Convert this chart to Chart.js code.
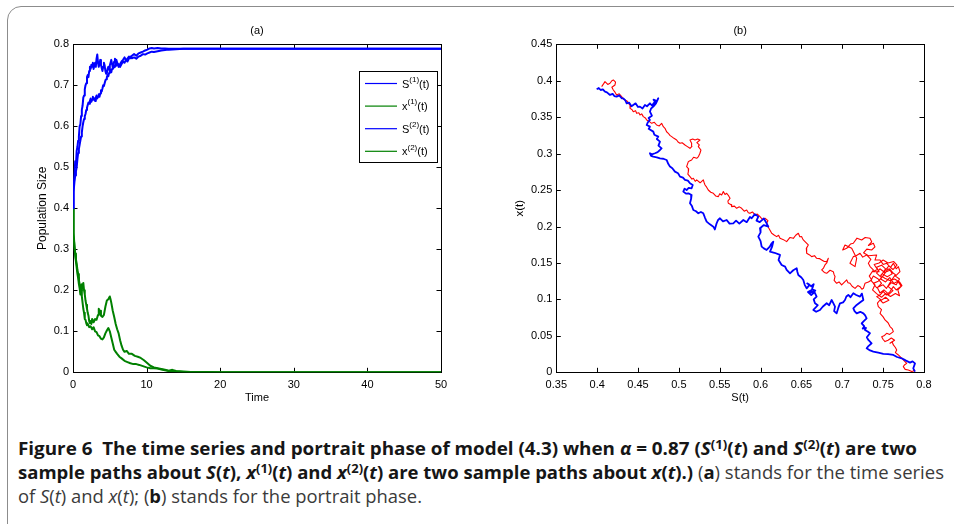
<!DOCTYPE html>
<html>
<head>
<meta charset="utf-8">
<script src="https://cdn.jsdelivr.net/npm/chart.js@4.4.1/dist/chart.umd.min.js"></script>
<style>
  html, body { margin:0; padding:0; background:#fff; width:954px; height:524px; overflow:hidden; }
  #frame { position:absolute; left:7px; top:6px; width:980px; height:540px; border:1.5px solid #8c8c8c; border-radius:14px; box-sizing:border-box; }
  canvas { position:absolute; top:0; }
  #ca { left:0; }
  #cb { left:480px; }
  .cap { position:absolute; left:18px; font-family:"Open Sans", "Noto Sans", sans-serif; font-size:17.5px; line-height:24px; white-space:nowrap; transform-origin:0 50%; color:#3a3a3a; }
  .cap b { color:#161616; font-weight:700; }
  .cap sup { font-size:0.7em; vertical-align:0.5em; line-height:0; }
</style>
</head>
<body>
<div id="frame"></div>
<canvas id="ca" width="480" height="420"></canvas>
<canvas id="cb" width="474" height="420"></canvas>
<div class="cap" id="l1" style="top:436px"><b>Figure 6&nbsp;&nbsp;The time series and portrait phase of model (4.3) when <i>α</i> = 0.87 (<i>S</i><sup>(1)</sup>(<i>t</i>) and <i>S</i><sup>(2)</sup>(<i>t</i>) are two</b></div>
<div class="cap" id="l2" style="top:460px"><b>sample paths about <i>S</i>(<i>t</i>), <i>x</i><sup>(1)</sup>(<i>t</i>) and <i>x</i><sup>(2)</sup>(<i>t</i>) are two sample paths about <i>x</i>(<i>t</i>).)</b> (<b>a</b>) stands for the time series</div>
<div class="cap" id="l3" style="top:484px">of <i>S</i>(<i>t</i>) and <i>x</i>(<i>t</i>); (<b>b</b>) stands for the portrait phase.</div>
<script>
// ---------- DATA ----------
const xTicksA = [0, 10, 20, 30, 40, 50];
const yTicksA = [0, 0.1, 0.2, 0.3, 0.4, 0.5, 0.6, 0.7, 0.8];
const xTicksB = [0.35, 0.4, 0.45, 0.5, 0.55, 0.6, 0.65, 0.7, 0.75, 0.8];
const yTicksB = [0, 0.05, 0.1, 0.15, 0.2, 0.25, 0.3, 0.35, 0.4, 0.45];
const legendLabels = [["S","(1)"],["x","(1)"],["S","(2)"],["x","(2)"]];

// time series [t, value]
const S1 = [[0,0.40],[0.05,0.43],[0.1,0.45],[0.2,0.48],[0.3,0.515],[0.4,0.505],[0.5,0.54],[0.6,0.55],[0.7,0.565],[0.8,0.575],[0.9,0.6],[1.0,0.605],[1.1,0.625],[1.2,0.64],[1.3,0.65],[1.4,0.67],[1.5,0.675],[1.6,0.69],[1.7,0.70],[1.8,0.705],[1.9,0.72],[2.0,0.725],[2.1,0.72],[2.2,0.735],[2.3,0.745],[2.4,0.74],[2.5,0.75],[2.6,0.745],[2.7,0.755],[2.8,0.74],[2.9,0.75],[3.0,0.755],[3.1,0.745],[3.2,0.765],[3.3,0.775],[3.4,0.755],[3.5,0.745],[3.6,0.752],[3.7,0.762],[3.8,0.75],[3.9,0.742],[4.0,0.735],[4.1,0.745],[4.2,0.755],[4.3,0.748],[4.4,0.735],[4.5,0.728],[4.6,0.73],[4.7,0.74],[4.8,0.745],[4.9,0.738],[5.0,0.748],[5.1,0.755],[5.2,0.762],[5.3,0.752],[5.4,0.745],[5.5,0.75],[5.6,0.758],[5.7,0.765],[5.8,0.755],[5.9,0.762],[6.0,0.755],[6.2,0.745],[6.4,0.752],[6.6,0.758],[6.8,0.762],[7.0,0.768],[7.2,0.762],[7.4,0.765],[7.6,0.77],[7.8,0.766],[8.0,0.772],[8.3,0.776],[8.6,0.772],[8.9,0.778],[9.2,0.78],[9.5,0.782],[9.8,0.785],[10.1,0.787],[10.4,0.79],[10.7,0.791],[11.0,0.79],[11.5,0.791],[12,0.79],[12.5,0.79],[13,0.789],[14,0.789],[15,0.789],[17,0.789],[20,0.789],[30,0.789],[40,0.789],[50,0.789]];
const S2 = [[0,0.40],[0.05,0.42],[0.1,0.44],[0.2,0.465],[0.3,0.48],[0.4,0.49],[0.5,0.50],[0.6,0.52],[0.7,0.535],[0.8,0.545],[0.9,0.555],[1.0,0.565],[1.1,0.575],[1.2,0.585],[1.3,0.6],[1.4,0.61],[1.5,0.618],[1.6,0.625],[1.7,0.63],[1.8,0.64],[1.9,0.645],[2.0,0.652],[2.1,0.658],[2.2,0.655],[2.3,0.662],[2.4,0.668],[2.5,0.66],[2.6,0.665],[2.7,0.672],[2.8,0.665],[2.9,0.668],[3.0,0.662],[3.1,0.67],[3.2,0.675],[3.3,0.668],[3.4,0.672],[3.5,0.678],[3.6,0.672],[3.7,0.68],[3.8,0.688],[3.9,0.685],[4.0,0.692],[4.1,0.70],[4.2,0.698],[4.3,0.705],[4.4,0.712],[4.5,0.715],[4.6,0.72],[4.7,0.725],[4.8,0.722],[4.9,0.73],[5.0,0.735],[5.1,0.738],[5.2,0.732],[5.3,0.74],[5.4,0.745],[5.5,0.742],[5.6,0.748],[5.7,0.745],[5.8,0.752],[5.9,0.748],[6.0,0.755],[6.2,0.75],[6.4,0.745],[6.6,0.752],[6.8,0.758],[7.0,0.755],[7.2,0.762],[7.4,0.758],[7.6,0.765],[7.8,0.77],[8.0,0.766],[8.3,0.768],[8.6,0.765],[8.9,0.77],[9.2,0.772],[9.5,0.776],[9.8,0.775],[10.1,0.778],[10.4,0.78],[10.7,0.782],[11.0,0.781],[11.5,0.783],[12,0.785],[12.5,0.786],[13,0.787],[14,0.788],[15,0.789],[17,0.789],[20,0.789],[30,0.789],[40,0.789],[50,0.789]];
const X1 = [[0,0.4],[0.05,0.37],[0.1,0.34],[0.2,0.31],[0.3,0.29],[0.4,0.275],[0.5,0.265],[0.6,0.25],[0.7,0.24],[0.8,0.225],[0.9,0.215],[1.0,0.21],[1.1,0.2],[1.2,0.215],[1.3,0.205],[1.4,0.218],[1.5,0.2],[1.6,0.19],[1.7,0.175],[1.8,0.165],[1.9,0.155],[2.0,0.145],[2.1,0.138],[2.2,0.125],[2.3,0.12],[2.4,0.125],[2.5,0.118],[2.6,0.13],[2.8,0.122],[3.0,0.13],[3.2,0.128],[3.4,0.14],[3.5,0.155],[3.6,0.145],[3.7,0.15],[3.8,0.138],[4.0,0.135],[4.2,0.14],[4.4,0.16],[4.6,0.175],[4.8,0.178],[5.0,0.185],[5.1,0.178],[5.2,0.17],[5.4,0.15],[5.6,0.135],[5.8,0.118],[6.0,0.105],[6.2,0.095],[6.4,0.078],[6.6,0.065],[6.8,0.055],[7.0,0.05],[7.3,0.052],[7.6,0.045],[8.0,0.045],[8.4,0.04],[8.8,0.038],[9.2,0.035],[9.6,0.03],[10,0.024],[10.5,0.016],[11,0.012],[11.5,0.01],[12,0.008],[12.5,0.006],[13,0.004],[13.5,0.006],[14,0.003],[15,0.002],[16,0.001],[18,0.0005],[20,0],[50,0]];
const X2 = [[0,0.4],[0.05,0.36],[0.1,0.335],[0.2,0.305],[0.3,0.285],[0.4,0.27],[0.5,0.255],[0.6,0.24],[0.7,0.23],[0.8,0.215],[0.9,0.205],[1.0,0.19],[1.1,0.2],[1.2,0.185],[1.3,0.17],[1.4,0.155],[1.5,0.145],[1.6,0.13],[1.7,0.128],[1.8,0.12],[1.9,0.115],[2.0,0.118],[2.2,0.11],[2.4,0.112],[2.6,0.105],[2.8,0.11],[3.0,0.1],[3.2,0.098],[3.4,0.09],[3.6,0.088],[3.8,0.082],[4.0,0.08],[4.2,0.085],[4.4,0.095],[4.6,0.102],[4.8,0.108],[5.0,0.1],[5.2,0.085],[5.4,0.07],[5.6,0.055],[5.8,0.05],[6.0,0.045],[6.3,0.038],[6.6,0.034],[7.0,0.028],[7.4,0.025],[7.8,0.022],[8.2,0.02],[8.6,0.02],[9.0,0.018],[9.5,0.015],[10,0.012],[10.5,0.01],[11,0.01],[11.5,0.009],[12,0.007],[12.5,0.005],[13,0.003],[14,0.002],[15,0.001],[17,0.0005],[20,0],[50,0]];

// phase portrait [S, x]
const bluePath = [[0.3994,0.3883],[0.4020,0.3900],[0.4043,0.3873],[0.4070,0.3880],[0.4096,0.3851],[0.4120,0.3840],[0.4157,0.3805],[0.4190,0.3820],[0.4210,0.3790],[0.4238,0.3782],[0.4270,0.3800],[0.4300,0.3760],[0.4320,0.3759],[0.4345,0.3730],[0.4361,0.3691],[0.4390,0.3700],[0.4420,0.3650],[0.4442,0.3668],[0.4470,0.3690],[0.4500,0.3640],[0.4524,0.3645],[0.4555,0.3620],[0.4585,0.3668],[0.4610,0.3650],[0.4646,0.3691],[0.4670,0.3660],[0.4708,0.3713],[0.4690,0.3740],[0.4730,0.3720],[0.4748,0.3759],[0.4720,0.3690],[0.4687,0.3645],[0.4660,0.3620],[0.4646,0.3576],[0.4670,0.3520],[0.4630,0.3490],[0.4646,0.3462],[0.4620,0.3430],[0.4606,0.3393],[0.4646,0.3370],[0.4630,0.3340],[0.4687,0.3302],[0.4700,0.3260],[0.4748,0.3233],[0.4730,0.3200],[0.4769,0.3165],[0.4750,0.3110],[0.4789,0.3073],[0.4769,0.3050],[0.4740,0.3020],[0.4708,0.3005],[0.4670,0.2990],[0.4646,0.3005],[0.4660,0.2970],[0.4687,0.2959],[0.4730,0.2950],[0.4769,0.2936],[0.4810,0.2930],[0.4850,0.2913],[0.4870,0.2860],[0.4891,0.2822],[0.4920,0.2800],[0.4952,0.2753],[0.4990,0.2730],[0.5014,0.2684],[0.5050,0.2670],[0.5075,0.2639],[0.5110,0.2630],[0.5136,0.2593],[0.5170,0.2570],[0.5156,0.2524],[0.5120,0.2530],[0.5095,0.2501],[0.5070,0.2520],[0.5054,0.2479],[0.5090,0.2450],[0.5116,0.2456],[0.5156,0.2433],[0.5150,0.2380],[0.5136,0.2319],[0.5160,0.2280],[0.5177,0.2227],[0.5210,0.2210],[0.5238,0.2181],[0.5270,0.2200],[0.5299,0.2181],[0.5320,0.2120],[0.5340,0.2067],[0.5380,0.2030],[0.5422,0.1998],[0.5440,0.1960],[0.5462,0.2044],[0.5480,0.2090],[0.5503,0.2113],[0.5540,0.2070],[0.5585,0.2090],[0.5620,0.2040],[0.5666,0.2044],[0.5700,0.2080],[0.5740,0.2040],[0.5789,0.2090],[0.5830,0.2060],[0.5870,0.2130],[0.5891,0.2113],[0.5930,0.2170],[0.5972,0.2136],[0.5950,0.2080],[0.5990,0.2060],[0.6010,0.2080],[0.6040,0.2110],[0.6074,0.2044],[0.6095,0.1998],[0.6040,0.2020],[0.5993,0.1976],[0.6000,0.1920],[0.5972,0.1861],[0.6000,0.1800],[0.6013,0.1724],[0.6040,0.1700],[0.6074,0.1678],[0.6110,0.1720],[0.6136,0.1770],[0.6156,0.1793],[0.6140,0.1720],[0.6115,0.1655],[0.6170,0.1640],[0.6238,0.1610],[0.6220,0.1540],[0.6258,0.1473],[0.6300,0.1450],[0.6319,0.1404],[0.6340,0.1380],[0.6360,0.1358],[0.6400,0.1400],[0.6442,0.1427],[0.6450,0.1380],[0.6462,0.1335],[0.6500,0.1300],[0.6523,0.1267],[0.6540,0.1200],[0.6564,0.1152],[0.6600,0.1200],[0.6570,0.1220],[0.6620,0.1180],[0.6650,0.1210],[0.6630,0.1140],[0.6670,0.1120],[0.6600,0.1090],[0.6625,0.1130],[0.6580,0.1100],[0.6620,0.1060],[0.6660,0.1100],[0.6686,0.1038],[0.6650,0.1000],[0.6666,0.0947],[0.6700,0.0920],[0.6646,0.0855],[0.6680,0.0830],[0.6727,0.0855],[0.6760,0.0900],[0.6809,0.0947],[0.6840,0.0920],[0.6870,0.0992],[0.6890,0.0950],[0.6911,0.0901],[0.6900,0.0840],[0.6931,0.0809],[0.6950,0.0880],[0.6972,0.0947],[0.7010,0.0960],[0.7033,0.0992],[0.7050,0.1040],[0.7074,0.1061],[0.7100,0.1030],[0.7135,0.1084],[0.7170,0.1060],[0.7217,0.1038],[0.7240,0.1080],[0.7258,0.0992],[0.7220,0.0960],[0.7176,0.0924],[0.7135,0.0878],[0.7150,0.0840],[0.7176,0.0809],[0.7220,0.0830],[0.7258,0.0809],[0.7280,0.0780],[0.7298,0.0741],[0.7260,0.0700],[0.7237,0.0672],[0.7270,0.0630],[0.7250,0.0600],[0.7290,0.0610],[0.7278,0.0581],[0.7310,0.0560],[0.7339,0.0535],[0.7300,0.0480],[0.7319,0.0444],[0.7359,0.0398],[0.7320,0.0360],[0.7298,0.0329],[0.7340,0.0300],[0.7380,0.0284],[0.7440,0.0270],[0.7502,0.0252],[0.7560,0.0250],[0.7625,0.0238],[0.7670,0.0210],[0.7727,0.0192],[0.7780,0.0160],[0.7829,0.0133],[0.7860,0.0150],[0.7890,0.0123],[0.7869,0.0055],[0.7890,0.0009]];
const redPath = [[0.4055,0.3919],[0.4080,0.3960],[0.4096,0.3988],[0.4130,0.3950],[0.4157,0.3965],[0.4180,0.4000],[0.4198,0.4011],[0.4225,0.3980],[0.4218,0.3942],[0.4180,0.3910],[0.4198,0.3873],[0.4220,0.3840],[0.4238,0.3805],[0.4270,0.3820],[0.4300,0.3782],[0.4320,0.3750],[0.4340,0.3736],[0.4370,0.3720],[0.4381,0.3691],[0.4410,0.3660],[0.4402,0.3622],[0.4430,0.3600],[0.4442,0.3576],[0.4470,0.3590],[0.4483,0.3553],[0.4510,0.3560],[0.4524,0.3530],[0.4545,0.3545],[0.4565,0.3508],[0.4590,0.3490],[0.4606,0.3462],[0.4640,0.3440],[0.4667,0.3416],[0.4700,0.3430],[0.4728,0.3393],[0.4760,0.3380],[0.4789,0.3416],[0.4810,0.3370],[0.4830,0.3348],[0.4850,0.3300],[0.4871,0.3279],[0.4890,0.3250],[0.4912,0.3233],[0.4940,0.3210],[0.4973,0.3187],[0.4990,0.3160],[0.5014,0.3142],[0.5040,0.3150],[0.5075,0.3119],[0.5100,0.3100],[0.5136,0.3073],[0.5160,0.3100],[0.5156,0.3142],[0.5136,0.3187],[0.5170,0.3200],[0.5197,0.3187],[0.5230,0.3200],[0.5258,0.3187],[0.5220,0.3150],[0.5250,0.3120],[0.5238,0.3096],[0.5270,0.3050],[0.5258,0.3005],[0.5240,0.2960],[0.5218,0.2936],[0.5180,0.2950],[0.5156,0.2913],[0.5130,0.2900],[0.5116,0.2890],[0.5095,0.2822],[0.5120,0.2790],[0.5116,0.2753],[0.5110,0.2720],[0.5136,0.2684],[0.5160,0.2650],[0.5177,0.2662],[0.5200,0.2620],[0.5218,0.2639],[0.5260,0.2600],[0.5299,0.2639],[0.5310,0.2600],[0.5320,0.2570],[0.5340,0.2540],[0.5360,0.2501],[0.5390,0.2470],[0.5422,0.2456],[0.5450,0.2420],[0.5483,0.2410],[0.5500,0.2450],[0.5524,0.2433],[0.5544,0.2479],[0.5565,0.2440],[0.5585,0.2456],[0.5610,0.2420],[0.5626,0.2387],[0.5600,0.2350],[0.5605,0.2319],[0.5640,0.2300],[0.5646,0.2273],[0.5680,0.2280],[0.5707,0.2250],[0.5740,0.2270],[0.5768,0.2250],[0.5800,0.2210],[0.5830,0.2227],[0.5850,0.2190],[0.5870,0.2181],[0.5900,0.2200],[0.5932,0.2159],[0.5960,0.2170],[0.5993,0.2136],[0.6020,0.2100],[0.6054,0.2113],[0.6090,0.2080],[0.6074,0.2044],[0.6100,0.1980],[0.6136,0.1907],[0.6170,0.1880],[0.6197,0.1861],[0.6220,0.1880],[0.6238,0.1838],[0.6280,0.1820],[0.6319,0.1793],[0.6360,0.1850],[0.6401,0.1838],[0.6430,0.1880],[0.6462,0.1907],[0.6480,0.1860],[0.6503,0.1861],[0.6520,0.1820],[0.6544,0.1793],[0.6584,0.1747],[0.6560,0.1700],[0.6564,0.1633],[0.6600,0.1610],[0.6625,0.1587],[0.6660,0.1600],[0.6686,0.1564],[0.6720,0.1560],[0.6748,0.1541],[0.6780,0.1520],[0.6809,0.1518],[0.6829,0.1564],[0.6810,0.1500],[0.6788,0.1473],[0.6770,0.1430],[0.6748,0.1404],[0.6780,0.1370],[0.6809,0.1358],[0.6850,0.1400],[0.6890,0.1381],[0.6900,0.1340],[0.6911,0.1313],[0.6900,0.1260],[0.6931,0.1221],[0.6960,0.1240],[0.6992,0.1198],[0.7020,0.1230],[0.7054,0.1267],[0.7070,0.1230],[0.7094,0.1221],[0.7120,0.1180],[0.7156,0.1152],[0.7190,0.1190],[0.7217,0.1175],[0.7240,0.1140],[0.7258,0.1152],[0.7278,0.1221],[0.7320,0.1240],[0.7359,0.1267],[0.7330,0.1320],[0.7380,0.1404],[0.7340,0.1450],[0.7319,0.1495],[0.7350,0.1550],[0.7298,0.1610],[0.7250,0.1580],[0.7217,0.1633],[0.7170,0.1600],[0.7135,0.1587],[0.7094,0.1495],[0.7156,0.1450],[0.7176,0.1564],[0.7115,0.1701],[0.7033,0.1747],[0.7005,0.1678],[0.7054,0.1701],[0.7100,0.1760],[0.7135,0.1770],[0.7180,0.1840],[0.7237,0.1816],[0.7280,0.1850],[0.7339,0.1838],[0.7360,0.1790],[0.7320,0.1740],[0.7380,0.1770],[0.7400,0.1720],[0.7359,0.1678],[0.7300,0.1690],[0.7260,0.1640],[0.7320,0.1600],[0.7421,0.1610],[0.7400,0.1540],[0.7462,0.1541],[0.7500,0.1480],[0.7543,0.1495],[0.7590,0.1440],[0.7625,0.1495],[0.7660,0.1420],[0.7686,0.1450],[0.7706,0.1381],[0.7650,0.1320],[0.7700,0.1280],[0.7660,0.1200],[0.7600,0.1230],[0.7560,0.1180],[0.7620,0.1120],[0.7570,0.1070],[0.7510,0.1130],[0.7460,0.1090],[0.7430,0.1160],[0.7480,0.1220],[0.7440,0.1280],[0.7380,0.1320],[0.7350,0.1260],[0.7400,0.1200],[0.7370,0.1130],[0.7420,0.1080],[0.7480,0.1030],[0.7530,0.1080],[0.7590,0.1040],[0.7650,0.1080],[0.7700,0.1050],[0.7680,0.1130],[0.7730,0.1190],[0.7700,0.1240],[0.7640,0.1280],[0.7580,0.1260],[0.7520,0.1290],[0.7470,0.1330],[0.7520,0.1390],[0.7570,0.1460],[0.7620,0.1410],[0.7670,0.1470],[0.7630,0.1520],[0.7560,0.1500],[0.7500,0.1540],[0.7450,0.1500],[0.7390,0.1480],[0.7430,0.1410],[0.7370,0.1380],[0.7450,0.1380],[0.7420,0.1440],[0.7480,0.1470],[0.7530,0.1420],[0.7490,0.1350],[0.7550,0.1310],[0.7610,0.1350],[0.7580,0.1420],[0.7625,0.1358],[0.7580,0.1400],[0.7520,0.1370],[0.7460,0.1420],[0.7420,0.1360],[0.7480,0.1300],[0.7440,0.1250],[0.7380,0.1220],[0.7420,0.1160],[0.7500,0.1200],[0.7540,0.1150],[0.7600,0.1260],[0.7650,0.1340],[0.7600,0.1380],[0.7560,0.1420],[0.7510,0.1340],[0.7470,0.1280],[0.7530,0.1240],[0.7580,0.1300],[0.7630,0.1220],[0.7680,0.1250],[0.7720,0.1180],[0.7660,0.1130],[0.7625,0.1175],[0.7584,0.1107],[0.7540,0.1060],[0.7502,0.1110],[0.7460,0.1060],[0.7421,0.1038],[0.7480,0.0990],[0.7530,0.1030],[0.7570,0.0990],[0.7500,0.0950],[0.7462,0.0992],[0.7430,0.0950],[0.7441,0.0901],[0.7480,0.0860],[0.7462,0.0809],[0.7500,0.0760],[0.7523,0.0718],[0.7560,0.0680],[0.7584,0.0627],[0.7610,0.0600],[0.7625,0.0558],[0.7580,0.0520],[0.7543,0.0535],[0.7510,0.0500],[0.7482,0.0489],[0.7500,0.0450],[0.7523,0.0421],[0.7560,0.0440],[0.7600,0.0470],[0.7640,0.0440],[0.7584,0.0398],[0.7610,0.0420],[0.7625,0.0375],[0.7650,0.0340],[0.7666,0.0306],[0.7650,0.0270],[0.7686,0.0238],[0.7720,0.0200],[0.7747,0.0169],[0.7788,0.0123],[0.7760,0.0100],[0.7747,0.0078],[0.7770,0.0040],[0.7808,0.0032],[0.7850,0.0010],[0.7880,0.0020],[0.7869,0.0032]];

// ---------- CHARTS ----------
const FONT = "'Liberation Sans', Arial, Helvetica, sans-serif";
const BLUE = '#0000ff', GREEN = '#008000', RED = '#ff0000';

const boxTicks = {
  id: 'boxTicks',
  beforeDatasetsDraw(chart) {
    const {ctx, chartArea: a, scales: {x, y}} = chart;
    ctx.save();
    ctx.strokeStyle = '#000';
    ctx.lineWidth = 1;
    ctx.beginPath();
    const L = 4.5;
    x.ticks.forEach(t => {
      const px = Math.round(x.getPixelForValue(t.value)) + 0.5;
      ctx.moveTo(px, a.bottom); ctx.lineTo(px, a.bottom - L);
      ctx.moveTo(px, a.top); ctx.lineTo(px, a.top + L);
    });
    y.ticks.forEach(t => {
      const py = Math.round(y.getPixelForValue(t.value)) + 0.5;
      ctx.moveTo(a.left, py); ctx.lineTo(a.left + L, py);
      ctx.moveTo(a.right, py); ctx.lineTo(a.right - L, py);
    });
    ctx.stroke();
    ctx.strokeRect(Math.round(a.left) + 0.5, Math.round(a.top) + 0.5, Math.round(a.right - a.left), Math.round(a.bottom - a.top));
    ctx.restore();
  }
};

const legendBox = {
  id: 'legendBox',
  afterDatasetsDraw(chart) {
    const ctx = chart.ctx;
    const colors = [BLUE, GREEN, BLUE, GREEN];
    const bx = 359, by = 71, bw = 78, bh = 91;
    ctx.save();
    ctx.fillStyle = '#fff';
    ctx.fillRect(bx, by, bw, bh);
    ctx.strokeStyle = '#000'; ctx.lineWidth = 1;
    ctx.strokeRect(bx + 0.5, by + 0.5, bw, bh);
    legendLabels.forEach((lab, i) => {
      const yy = 83.5 + i * 22.6;
      ctx.strokeStyle = colors[i]; ctx.lineWidth = 1.2;
      ctx.beginPath(); ctx.moveTo(365, yy); ctx.lineTo(397, yy); ctx.stroke();
      ctx.fillStyle = '#000';
      ctx.textBaseline = 'middle';
      ctx.font = '11px ' + FONT;
      let xx = 402;
      ctx.fillText(lab[0], xx, yy + 1); xx += ctx.measureText(lab[0]).width;
      ctx.font = '8px ' + FONT;
      ctx.fillText(lab[1], xx, yy - 4); xx += ctx.measureText(lab[1]).width;
      ctx.font = '11px ' + FONT;
      ctx.fillText('(t)', xx, yy + 1);
    });
    ctx.restore();
  }
};

function fixedTicks(arr) { return s => { s.ticks = arr.map(v => ({value: v})); }; }

function makeOptions(o) {
  return {
    responsive: false, animation: false, devicePixelRatio: 1,
    layout: { padding: { left: 0, top: 0, right: o.padRight, bottom: 0 } },
    plugins: {
      legend: { display: false }, tooltip: { enabled: false },
      title: { display: true, text: o.title, fullSize: false, color: '#000',
               font: { family: FONT, size: 11, weight: 'normal' }, padding: { top: 24, bottom: 7.1 } }
    },
    scales: {
      x: {
        type: 'linear', min: o.xmin, max: o.xmax,
        afterBuildTicks: fixedTicks(o.xt),
        afterFit: s => { s.height = 47.7; },
        grid: { display: false, drawTicks: false },
        border: { display: false },
        ticks: { color: '#000', font: { family: FONT, size: 11 }, padding: 6, maxRotation: 0, autoSkip: false,
                 callback: v => String(v) },
        title: { display: true, text: o.xlabel, color: '#000', font: { family: FONT, size: 11 }, padding: { top: 0, bottom: 15.1 } }
      },
      y: {
        type: 'linear', min: o.ymin, max: o.ymax,
        afterBuildTicks: fixedTicks(o.yt),
        afterFit: s => { s.width = o.yWidth; },
        grid: { display: false, drawTicks: false },
        border: { display: false },
        ticks: { color: '#000', font: { family: FONT, size: 11 }, padding: 4, autoSkip: false,
                 callback: v => String(v) },
        title: { display: true, text: o.ylabel, color: '#000', font: { family: FONT, size: o.yTitleSize }, padding: { top: o.yTitlePad, bottom: 0 } }
      }
    }
  };
}

const toXY = arr => arr.map(p => ({x: p[0], y: p[1]}));
const ds = (arr, color, w) => ({ data: toXY(arr), borderColor: color, borderWidth: w, showLine: true, pointRadius: 0, tension: 0, fill: false, borderJoinStyle: 'round' });

new Chart(document.getElementById('ca'), {
  type: 'scatter',
  data: { datasets: [ ds(S1, BLUE, 2), ds(X1, GREEN, 2), ds(S2, BLUE, 2), ds(X2, GREEN, 2) ] },
  options: makeOptions({ title: '(a)', padRight: 39, xmin: 0, xmax: 50, ymin: 0, ymax: 0.8, xt: xTicksA, yt: yTicksA,
                         xlabel: 'Time', ylabel: 'Population Size', yWidth: 73, yTitlePad: 35.1, yTitleSize: 12 }),
  plugins: [boxTicks, legendBox]
});

new Chart(document.getElementById('cb'), {
  type: 'scatter',
  data: { datasets: [ ds(bluePath, BLUE, 1.8), ds(redPath, RED, 1.1) ] },
  options: makeOptions({ title: '(b)', padRight: 30, xmin: 0.35, xmax: 0.8, ymin: 0, ymax: 0.45, xt: xTicksB, yt: yTicksB,
                         xlabel: 'S(t)', ylabel: 'x(t)', yWidth: 76.3, yTitlePad: 33.1, yTitleSize: 11.5 }),
  plugins: [boxTicks]
});

// fit caption lines to reference widths
function fitCaption() {
  const targets = { l1: 899, l2: 926, l3: 404 };
  for (const id in targets) {
    const el = document.getElementById(id);
    el.style.transform = 'none';
    const w = el.getBoundingClientRect().width;
    el.style.transform = 'scaleX(' + (targets[id] / w) + ')';
  }
}
fitCaption();
if (document.fonts && document.fonts.ready) document.fonts.ready.then(fitCaption);
</script>
</body>
</html>
